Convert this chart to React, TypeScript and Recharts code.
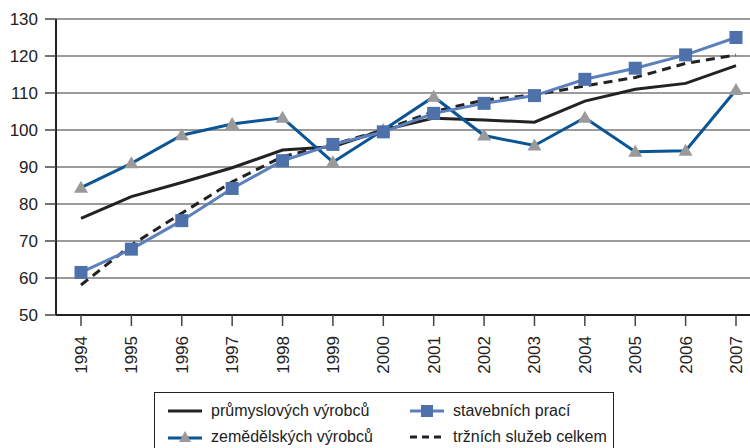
import { LineChart, Line, XAxis, YAxis, CartesianGrid } from "recharts";

const YEARS = ["1994", "1995", "1996", "1997", "1998", "1999", "2000", "2001", "2002", "2003", "2004", "2005", "2006", "2007"];
const PRUMYSL = [76.1, 82.0, 85.8, 89.8, 94.6, 95.5, 100, 103.2, 102.7, 102.1, 107.8, 111.0, 112.6, 117.4];
const ZEMED = [84.4, 91.0, 98.6, 101.6, 103.3, 91.3, 100, 109.0, 98.5, 95.8, 103.3, 94.1, 94.4, 110.8];
const STAVEB = [61.5, 67.8, 75.5, 84.2, 91.7, 96.1, 99.5, 104.5, 107.2, 109.3, 113.7, 116.7, 120.3, 125.0];
const TRZNI = [58.1, 68.9, 77.5, 86.0, 92.8, 96.1, 100, 105.0, 108.1, 109.5, 111.9, 114.2, 118.0, 120.3];
const Y_TICKS = [50, 60, 70, 80, 90, 100, 110, 120, 130];

const LABELS = {
  prumysl: "průmyslových výrobců",
  zemed: "zemědělských výrobců",
  staveb: "stavebních prací",
  trzni: "tržních služeb celkem",
};

const data = YEARS.map((year, i) => ({
  year,
  prumysl: PRUMYSL[i],
  zemed: ZEMED[i],
  staveb: STAVEB[i],
  trzni: TRZNI[i],
}));

const FONT = "'Liberation Sans', Arial, Helvetica, sans-serif";
const DARK_BLUE = "#0b5595";
const LIGHT_BLUE = "#5b80bd";
const SQUARE = "#4f71ab";
const TRI = "#9a9a9a";

const Triangle = (props: any) => {
  const { cx, cy } = props;
  if (cx == null || cy == null) return null;
  return <path d={`M${cx},${cy - 7} L${cx + 7},${cy + 5} L${cx - 7},${cy + 5} Z`} fill={TRI} />;
};

const Square = (props: any) => {
  const { cx, cy } = props;
  if (cx == null || cy == null) return null;
  return <rect x={cx - 6.5} y={cy - 6.5} width={13} height={13} fill={SQUARE} />;
};

const YearTick = (props: any) => {
  const { x, y, payload } = props;
  return (
    <g transform={`translate(${x},${y})`}>
      <text x={0} y={0} dy={6} textAnchor="end" transform="rotate(-90)" fill="#222" fontSize={17} fontFamily={FONT}>
        {payload.value}
      </text>
    </g>
  );
};

function LegendBox() {
  const row = { display: "flex", alignItems: "center", height: 26 };
  const text = { fontSize: 16, color: "#222", fontFamily: FONT };
  return (
    <div
      style={{
        position: "absolute",
        left: 154,
        top: 392,
        width: 460,
        height: 80,
        border: "1.5px solid #222",
        background: "#fff",
        boxSizing: "border-box",
      }}
    >
      <div style={{ position: "absolute", left: 13, top: 5 }}>
        <div style={row}>
          <svg width={34} height={14} style={{ marginRight: 9 }}>
            <line x1={0} y1={7} x2={34} y2={7} stroke="#222" strokeWidth={3} />
          </svg>
          <span style={text}>{LABELS.prumysl}</span>
        </div>
        <div style={row}>
          <svg width={34} height={14} style={{ marginRight: 9 }}>
            <line x1={0} y1={8} x2={34} y2={8} stroke={DARK_BLUE} strokeWidth={3} />
            <path d="M17,1 L23,12 L11,12 Z" fill={TRI} />
          </svg>
          <span style={text}>{LABELS.zemed}</span>
        </div>
      </div>
      <div style={{ position: "absolute", left: 255, top: 5 }}>
        <div style={row}>
          <svg width={34} height={14} style={{ marginRight: 9 }}>
            <line x1={0} y1={7} x2={34} y2={7} stroke={LIGHT_BLUE} strokeWidth={3} />
            <rect x={11} y={1} width={12} height={12} fill={SQUARE} />
          </svg>
          <span style={text}>{LABELS.staveb}</span>
        </div>
        <div style={row}>
          <svg width={34} height={14} style={{ marginRight: 9 }}>
            <line x1={0} y1={7} x2={34} y2={7} stroke="#222" strokeWidth={3} strokeDasharray="7 5" />
          </svg>
          <span style={text}>{LABELS.trzni}</span>
        </div>
      </div>
    </div>
  );
}

export default function App() {
  return (
    <div style={{ position: "relative", width: 750, height: 448, overflow: "hidden", background: "#fff" }}>
      <style>{"body{margin:0;overflow:hidden}"}</style>
      <LineChart width={770} height={448} data={data} margin={{ top: 19, right: 9, left: 0, bottom: 0 }}>
        <CartesianGrid horizontal vertical={false} stroke="#7a7a7a" strokeWidth={1.5} />
        <XAxis
          dataKey="year"
          padding={{ left: 25, right: 25 }}
          height={133}
          interval={0}
          tickSize={11}
          tickMargin={10}
          stroke="#222"
          strokeWidth={2}
          tickLine={{ stroke: "#444", strokeWidth: 1.5 }}
          tick={<YearTick />}
        />
        <YAxis
          domain={[50, 130]}
          ticks={Y_TICKS}
          width={56}
          tickSize={11}
          tickMargin={7}
          stroke="#222"
          strokeWidth={2}
          tickLine={{ stroke: "#444", strokeWidth: 1.5 }}
          tick={{ fill: "#222", fontSize: 17, fontFamily: FONT }}
        />
        <Line dataKey="prumysl" stroke="#222" strokeWidth={3} dot={false} isAnimationActive={false} />
        <Line dataKey="trzni" stroke="#222" strokeWidth={3} strokeDasharray="9 6" dot={false} isAnimationActive={false} />
        <Line dataKey="zemed" stroke={DARK_BLUE} strokeWidth={3} dot={<Triangle />} activeDot={false} isAnimationActive={false} />
        <Line dataKey="staveb" stroke={LIGHT_BLUE} strokeWidth={3} dot={<Square />} activeDot={false} isAnimationActive={false} />
      </LineChart>
      <LegendBox />
    </div>
  );
}
